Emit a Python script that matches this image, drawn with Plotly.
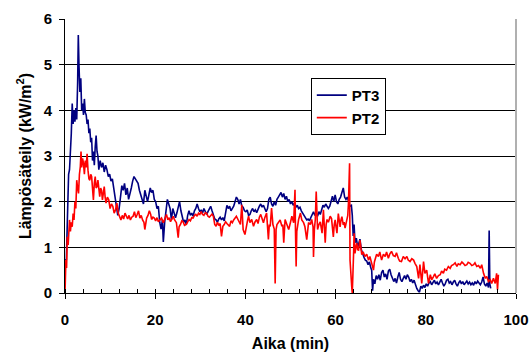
import plotly.graph_objects as go

# PT3 (time in min, heat flux kW/m2)
pt3 = [(0.1,0.75),(0.3,0.72),(0.5,1.5),(0.6,2.0),(0.8,2.6),(1.0,2.7),(1.2,3.0),(1.4,3.5),(1.6,4.15),(1.8,3.7),(2.0,4.0),(2.2,3.75),(2.4,4.05),(2.6,3.8),(2.8,4.6),(2.95,5.65),(3.1,5.0),(3.3,4.4),(3.5,4.7),(3.7,4.0),(3.9,4.15),(4.1,3.9),(4.3,4.25),(4.5,3.95),(4.7,3.9),(4.9,3.7),(5.1,3.8),(5.3,3.5),(5.5,3.6),(5.7,3.3),(5.9,3.4),(6.1,2.9),(6.3,3.1),(6.5,2.8),(6.7,3.2),(6.9,3.45),(7.1,3.1),(7.3,3.0),(7.5,2.7),(7.8,2.9),(8.1,2.75),(8.4,2.85),(8.7,2.65),(9.0,2.8),(9.3,2.7),(9.6,2.55),(9.9,2.6),(10.2,2.45),(10.5,2.5),(10.8,2.3),(11.1,2.2),(11.4,1.95),(11.7,1.7),(12.0,1.85),(12.3,2.1),(12.6,2.35),(12.9,2.25),(13.2,2.4),(13.5,2.15),(13.8,2.3),(14.1,2.05),(14.4,2.15),(14.7,2.3),(15.0,2.45),(15.3,2.55),(15.6,2.5),(15.9,2.45),(16.2,2.4),(16.5,2.25),(16.8,2.15),(17.1,2.05),(17.4,1.95),(17.7,2.25),(18.0,2.1),(18.3,2.0),(18.6,2.15),(18.9,2.3),(19.2,2.2),(19.5,2.25),(19.8,2.05),(20.1,2.0),(20.4,1.85),(20.7,1.9),(21.0,1.55),(21.3,1.4),(21.6,1.6),(21.8,1.12),(22.1,1.55),(22.4,1.8),(22.7,2.05),(23.0,1.95),(23.3,1.85),(23.6,1.6),(23.9,1.85),(24.2,1.75),(24.5,1.65),(24.8,1.75),(25.1,1.9),(25.4,2.0),(25.7,1.8),(26.0,1.7),(26.3,1.55),(26.6,1.6),(26.9,1.5),(27.2,1.7),(27.5,1.8),(27.8,1.7),(28.1,1.75),(28.4,1.68),(28.7,1.8),(29.0,1.85),(29.3,1.95),(29.6,1.85),(29.9,1.78),(30.2,1.82),(30.5,1.75),(30.8,1.85),(31.1,1.8),(31.4,1.72),(31.7,1.78),(32.0,1.83),(32.3,1.9),(32.6,1.8),(32.9,1.7),(33.2,1.62),(33.5,1.6),(33.8,1.55),(34.1,1.62),(34.4,1.66),(34.7,1.6),(35.0,1.65),(35.3,1.58),(35.6,1.75),(35.9,1.92),(36.2,1.85),(36.5,1.9),(36.8,1.8),(37.1,1.85),(37.4,1.9),(37.7,2.0),(38.0,2.1),(38.3,2.05),(38.6,1.95),(38.9,2.05),(39.2,1.9),(39.5,1.88),(39.8,1.8),(40.1,1.78),(40.4,1.82),(40.7,1.7),(41.0,1.72),(41.3,1.8),(41.6,1.85),(41.9,1.78),(42.2,1.82),(42.5,1.76),(42.8,1.85),(43.1,1.9),(43.4,1.95),(43.7,1.88),(44.0,1.92),(44.3,1.85),(44.6,1.78),(44.9,1.85),(45.2,2.05),(45.5,2.1),(45.8,1.95),(46.1,1.9),(46.4,2.0),(46.7,1.92),(47.0,2.05),(47.3,2.1),(47.6,2.15),(47.9,2.2),(48.2,2.1),(48.5,2.18),(48.8,2.05),(49.1,2.12),(49.4,2.0),(49.7,2.05),(50.0,1.95),(50.3,2.0),(50.6,1.92),(50.9,1.97),(51.2,1.88),(51.5,1.92),(51.8,1.85),(52.1,1.88),(52.4,1.8),(52.7,1.75),(53.0,1.7),(53.3,1.65),(53.6,1.6),(53.9,1.62),(54.2,1.58),(54.5,1.65),(54.8,1.72),(55.1,1.78),(55.4,1.7),(55.7,1.75),(56.0,1.68),(56.3,1.78),(56.6,1.72),(56.9,1.85),(57.2,1.92),(57.5,1.88),(57.8,1.95),(58.1,1.9),(58.4,1.85),(58.7,1.9),(59.0,2.05),(59.3,2.12),(59.6,2.0),(59.9,2.15),(60.2,2.0),(60.5,1.95),(60.8,2.05),(61.1,2.1),(61.4,2.2),(61.7,2.3),(62.0,2.1),(62.3,2.05),(62.6,2.1),(62.9,2.0),(63.2,1.9),(63.5,1.92),(63.7,1.7),(63.9,1.25),(64.1,1.5),(64.3,1.1),(64.6,1.2),(64.9,1.0),(65.2,1.1),(65.4,1.18),(65.7,0.95),(66.0,0.85),(66.3,0.78),(66.6,0.72),(66.9,0.7),(67.2,0.62),(67.5,0.68),(67.8,0.55),(68.0,0.5),(68.2,0.05),(68.4,0.3),(68.7,0.2),(69.0,0.38),(69.3,0.3),(69.6,0.4),(69.9,0.28),(70.2,0.45),(70.5,0.5),(70.8,0.35),(71.1,0.42),(71.4,0.3),(71.7,0.48),(72.0,0.52),(72.3,0.4),(72.6,0.3),(72.9,0.25),(73.2,0.32),(73.5,0.22),(73.8,0.35),(74.1,0.45),(74.4,0.3),(74.7,0.25),(75.0,0.32),(75.3,0.38),(75.6,0.3),(75.9,0.4),(76.2,0.35),(76.5,0.25),(76.8,0.3),(77.1,0.22),(77.4,0.28),(77.7,0.18),(78.0,0.1),(78.3,0.05),(78.6,0.02),(78.9,0.15),(79.2,0.1),(79.5,0.17),(79.8,0.12),(80.1,0.2),(80.4,0.15),(80.7,0.22),(81.0,0.25),(81.3,0.18),(81.6,0.22),(81.9,0.28),(82.2,0.2),(82.5,0.24),(82.8,0.18),(83.1,0.26),(83.4,0.3),(83.7,0.22),(84.0,0.15),(84.3,0.2),(84.6,0.28),(84.9,0.3),(85.2,0.22),(85.5,0.25),(85.8,0.18),(86.1,0.24),(86.4,0.28),(86.7,0.2),(87.0,0.15),(87.3,0.22),(87.6,0.27),(87.9,0.2),(88.2,0.25),(88.5,0.18),(88.8,0.22),(89.1,0.26),(89.4,0.2),(89.7,0.24),(90.0,0.18),(90.3,0.22),(90.6,0.17),(90.9,0.25),(91.2,0.2),(91.5,0.26),(91.8,0.22),(92.1,0.18),(92.4,0.24),(92.7,0.35),(93.0,0.2),(93.3,0.15),(93.6,0.22),(93.9,0.12),(94.05,1.37),(94.2,0.2),(94.4,0.1)]

# PT2
pt2 = [(0.0,0.0),(0.1,0.45),(0.2,0.72),(0.35,0.55),(0.5,1.23),(0.7,1.05),(0.85,1.4),(1.0,1.6),(1.2,1.35),(1.4,1.55),(1.6,1.45),(1.8,1.74),(2.0,1.6),(2.2,2.0),(2.4,1.85),(2.6,2.47),(2.8,2.3),(3.0,2.18),(3.2,2.6),(3.4,2.77),(3.55,3.1),(3.7,2.75),(3.9,2.95),(4.1,2.84),(4.3,2.6),(4.5,2.9),(4.7,2.75),(4.9,3.05),(5.1,2.69),(5.3,2.5),(5.5,2.47),(5.7,2.6),(5.9,2.55),(6.1,2.3),(6.3,2.04),(6.5,2.4),(6.7,2.55),(6.9,2.3),(7.1,2.33),(7.3,2.47),(7.5,2.2),(7.7,2.11),(7.9,2.3),(8.1,2.25),(8.3,2.04),(8.5,2.2),(8.7,2.33),(8.9,2.1),(9.1,1.97),(9.4,2.1),(9.7,2.04),(10.0,1.85),(10.3,1.95),(10.6,1.9),(10.9,1.75),(11.2,1.82),(11.5,1.97),(11.8,1.75),(12.1,1.65),(12.4,1.6),(12.7,1.7),(13.0,1.62),(13.3,1.75),(13.6,1.68),(13.9,1.62),(14.2,1.7),(14.5,1.6),(14.8,1.66),(15.1,1.68),(15.4,1.78),(15.7,1.65),(16.0,1.72),(16.3,1.8),(16.6,1.64),(16.9,1.7),(17.2,1.6),(17.5,1.55),(17.7,1.39),(17.9,1.6),(18.1,1.64),(18.4,1.7),(18.7,1.8),(19.0,1.72),(19.2,1.61),(19.5,1.66),(19.8,1.64),(20.1,1.58),(20.4,1.65),(20.7,1.56),(21.0,1.6),(21.4,1.64),(21.8,1.54),(22.1,1.62),(22.5,1.72),(22.8,1.6),(23.1,1.65),(23.4,1.56),(23.7,1.62),(24.0,1.68),(24.3,1.6),(24.7,1.54),(25.1,1.21),(25.3,1.45),(25.6,1.5),(25.9,1.58),(26.2,1.56),(26.5,1.48),(26.9,1.5),(27.2,1.56),(27.5,1.61),(27.8,1.58),(28.1,1.65),(28.4,1.64),(28.7,1.7),(29.0,1.72),(29.3,1.68),(29.6,1.75),(29.9,1.72),(30.2,1.78),(30.5,1.72),(30.8,1.7),(31.1,1.76),(31.4,1.75),(31.7,1.68),(32.0,1.66),(32.3,1.7),(32.6,1.73),(32.9,1.68),(33.2,1.5),(33.5,1.46),(33.8,1.55),(34.1,1.48),(34.4,1.52),(34.7,1.24),(35.0,1.46),(35.3,1.5),(35.6,1.56),(35.9,1.52),(36.2,1.48),(36.5,1.46),(36.8,1.58),(37.1,1.54),(37.4,1.6),(37.7,1.65),(38.0,1.68),(38.3,1.62),(38.6,1.55),(38.9,1.5),(39.2,1.93),(39.5,1.39),(39.9,1.28),(40.2,1.5),(40.5,1.6),(40.7,1.68),(41.0,1.54),(41.4,1.61),(41.8,1.46),(42.1,1.55),(42.5,1.61),(42.8,1.52),(43.1,1.66),(43.4,1.72),(43.7,1.6),(44.0,1.54),(44.3,1.65),(44.7,1.75),(45.1,1.17),(45.3,1.5),(45.5,1.46),(45.8,1.86),(46.1,1.5),(46.4,1.4),(46.6,0.21),(46.8,1.39),(47.0,1.5),(47.3,1.54),(47.7,1.6),(48.1,1.46),(48.3,1.5),(48.5,1.1),(48.8,1.61),(49.2,1.5),(49.6,1.39),(50.0,1.55),(50.3,1.68),(50.7,1.54),(51.0,2.26),(51.1,1.4),(51.25,0.58),(51.4,1.35),(51.8,1.61),(52.2,1.75),(52.5,1.6),(52.9,1.54),(53.2,1.45),(53.6,1.17),(53.8,1.4),(54.0,1.54),(54.4,1.5),(54.7,1.61),(55.0,1.45),(55.1,0.79),(55.3,1.4),(55.5,1.61),(55.7,2.22),(55.85,1.5),(56.0,1.39),(56.3,1.5),(56.6,1.56),(57.0,1.31),(57.3,1.82),(57.5,1.45),(57.7,1.1),(57.9,1.5),(58.1,1.61),(58.4,1.55),(58.8,1.68),(59.1,1.63),(59.3,1.35),(59.5,1.23),(59.7,1.5),(59.9,1.6),(60.1,1.45),(60.3,1.31),(60.6,1.74),(60.8,1.55),(61.0,1.45),(61.2,1.6),(61.4,1.67),(61.7,1.49),(61.9,1.55),(62.1,1.42),(62.3,1.5),(62.5,1.56),(62.7,1.7),(62.85,1.96),(63.0,2.4),(63.1,2.84),(63.2,0.72),(63.3,0.5),(63.4,0.29),(63.6,0.1),(63.7,0.0),(63.8,0.22),(64.0,0.9),(64.1,1.31),(64.3,0.87),(64.5,1.0),(64.7,1.09),(64.9,0.95),(65.1,0.94),(65.4,1.16),(65.6,0.95),(65.8,0.84),(66.1,0.9),(66.5,0.8),(66.9,0.85),(67.3,0.72),(67.6,0.8),(68.0,0.65),(68.2,0.55),(68.4,0.5),(68.6,0.68),(68.8,0.76),(69.1,0.85),(69.5,0.8),(69.8,0.9),(70.2,0.72),(70.6,0.85),(71.0,0.8),(71.3,0.9),(71.7,0.76),(72.0,0.85),(72.4,0.91),(72.8,0.82),(73.2,0.8),(73.5,0.88),(73.9,0.76),(74.2,0.7),(74.6,0.69),(75.0,0.8),(75.4,0.75),(75.8,0.8),(76.1,0.72),(76.5,0.69),(76.9,0.75),(77.3,0.72),(77.6,0.65),(78.0,0.58),(78.2,0.45),(78.4,0.32),(78.7,0.62),(79.1,0.21),(79.5,0.69),(79.8,0.43),(80.2,0.5),(80.6,0.21),(81.0,0.4),(81.3,0.29),(81.7,0.36),(82.0,0.42),(82.4,0.32),(82.8,0.38),(83.2,0.4),(83.5,0.48),(83.9,0.43),(84.2,0.52),(84.6,0.5),(85.0,0.58),(85.4,0.54),(85.7,0.6),(86.1,0.62),(86.5,0.66),(86.9,0.58),(87.2,0.64),(87.6,0.62),(88.0,0.68),(88.3,0.65),(88.7,0.6),(89.1,0.62),(89.4,0.67),(89.8,0.65),(90.2,0.6),(90.6,0.62),(90.9,0.66),(91.3,0.58),(91.7,0.6),(92.1,0.54),(92.4,0.62),(92.8,0.43),(93.2,0.32),(93.5,0.36),(93.9,0.25),(94.3,0.29),(94.6,0.21),(95.0,0.32),(95.4,0.21),(95.7,0.43),(95.9,0.07),(96.1,0.4)]

pt3_time = [p[0] for p in pt3]
pt3_value = [p[1] for p in pt3]
pt2_time = [p[0] for p in pt2]
pt2_value = [p[1] for p in pt2]

x_ticks = [0, 20, 40, 60, 80, 100]
y_ticks = [0, 1, 2, 3, 4, 5, 6]

FONT = "Arial"

fig = go.Figure()
fig.add_trace(go.Scatter(x=pt3_time, y=pt3_value, mode="lines", name="PT3",
                         line=dict(color="#000080", width=1.6)))
fig.add_trace(go.Scatter(x=pt2_time, y=pt2_value, mode="lines", name="PT2",
                         line=dict(color="#FF0000", width=1.6)))

fig.update_layout(
    width=531, height=356,
    margin=dict(l=65, r=15, t=19, b=63),
    paper_bgcolor="white", plot_bgcolor="white",
    font=dict(family=FONT, color="black", size=15),
    showlegend=True,
    legend=dict(x=0.545, y=0.785, xanchor="left", yanchor="top",
                bgcolor="white", bordercolor="black", borderwidth=1,
                font=dict(family=FONT, size=15, weight="bold"),
                itemwidth=30, tracegroupgap=0),
    xaxis=dict(range=[0, 100], tickvals=x_ticks, showgrid=False, zeroline=False,
               showline=True, linecolor="black", linewidth=1, automargin=False,
               ticks="outside", ticklen=5, tickcolor="black",
               ticklabelstandoff=8,
               minor=dict(dtick=4, ticks="inside", ticklen=4, tickcolor="black", showgrid=False),
               tickfont=dict(family=FONT, size=15, weight="bold"),
               title=dict(text="Aika (min)", font=dict(family=FONT, size=16, weight="bold"), standoff=10)),
    yaxis=dict(range=[0, 6], tickvals=y_ticks, showgrid=True, gridcolor="black", gridwidth=1,
               zeroline=False, showline=True, linecolor="black", linewidth=1, automargin=False,
               ticks="outside", ticklen=5, tickcolor="black",
               ticklabelstandoff=4,
               tickfont=dict(family=FONT, size=15, weight="bold"),
               title=dict(text="Lämpösäteily (kW/m<sup>2</sup>)", font=dict(family=FONT, size=16, weight="bold"), standoff=8)),
    shapes=[dict(type="line", xref="paper", yref="paper", x0=1, x1=1, y0=0, y1=1,
                 line=dict(color="#b0b0b0", width=2))],
)

fig.write_html("out.html")
